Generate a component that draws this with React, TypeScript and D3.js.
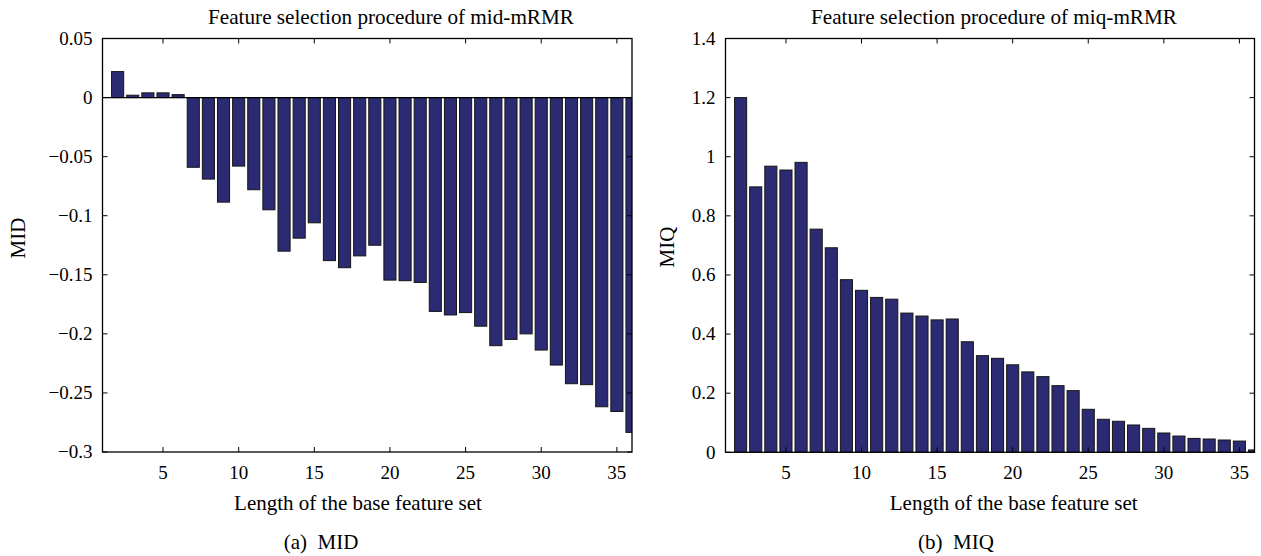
import React from "react";
import * as d3 from "d3";

const featureLengths: number[] = d3.range(2, 37);

const midValues: number[] = [
  0.022, 0.002, 0.004, 0.004, 0.0025, -0.059, -0.069, -0.0885, -0.058, -0.078,
  -0.095, -0.13, -0.119, -0.106, -0.138, -0.144, -0.134, -0.125, -0.1545, -0.155,
  -0.1565, -0.181, -0.184, -0.182, -0.1935, -0.21, -0.2047, -0.2, -0.2137, -0.2264,
  -0.2422, -0.243, -0.2617, -0.2657, -0.2834,
];

const miqValues: number[] = [
  1.2, 0.898, 0.968, 0.955, 0.981, 0.755, 0.692, 0.584, 0.548, 0.524,
  0.518, 0.471, 0.461, 0.448, 0.451, 0.374, 0.327, 0.318, 0.296, 0.272,
  0.256, 0.2255, 0.2086, 0.1455, 0.1117, 0.105, 0.0924, 0.081, 0.0653, 0.055,
  0.047, 0.045, 0.0416, 0.038, 0.008,
];

const xTicks: number[] = [5, 10, 15, 20, 25, 30, 35];
const midYTicks: number[] = [0.05, 0, -0.05, -0.1, -0.15, -0.2, -0.25, -0.3];
const miqYTicks: number[] = [1.4, 1.2, 1, 0.8, 0.6, 0.4, 0.2, 0];

const FONT = "'Liberation Serif', 'Times New Roman', serif";
const BAR_FILL = "#2b2b73";

const fmt = (v: number) => {
  const s = String(Math.abs(v));
  return v < 0 ? "\u2212" + s : s;
};

type PanelProps = {
  id: string;
  left: number;
  right: number;
  top: number;
  bottom: number;
  yDomain: [number, number];
  yTicks: number[];
  values: number[];
  title: string;
  titleX: number;
  yLabel: string;
  yLabelX: number;
  yLabelY: number;
  xLabelX: number;
  caption: string;
  captionX: number;
  drawBaseline: boolean;
};

function Panel(p: PanelProps) {
  const x = d3.scaleLinear().domain([1, 36]).range([p.left, p.right]);
  const y = d3.scaleLinear().domain(p.yDomain).range([p.bottom, p.top]);
  const bw = x(1.8) - x(1);
  const tl = 5;
  return (
    <g>
      <defs>
        <clipPath id={p.id}>
          <rect x={p.left} y={p.top} width={p.right - p.left} height={p.bottom - p.top} />
        </clipPath>
      </defs>
      <g clipPath={`url(#${p.id})`}>
        {p.values.map((v, i) => {
          const cx = x(featureLengths[i]);
          const y0 = y(0);
          const y1 = y(v);
          return (
            <rect
              key={i}
              x={cx - bw / 2}
              y={Math.min(y0, y1)}
              width={bw}
              height={Math.abs(y1 - y0)}
              fill={BAR_FILL}
              stroke="#151515"
              strokeWidth={1}
            />
          );
        })}
        {p.drawBaseline && (
          <line x1={p.left} x2={p.right} y1={y(0)} y2={y(0)} stroke="#000" strokeWidth={1.2} />
        )}
      </g>
      <rect
        x={p.left}
        y={p.top}
        width={p.right - p.left}
        height={p.bottom - p.top}
        fill="none"
        stroke="#000"
        strokeWidth={1.3}
      />
      {xTicks.map((t) => (
        <g key={"x" + t}>
          <line x1={x(t)} x2={x(t)} y1={p.bottom} y2={p.bottom - tl} stroke="#000" />
          <line x1={x(t)} x2={x(t)} y1={p.top} y2={p.top + tl} stroke="#000" />
          <text x={x(t)} y={p.bottom + 27} textAnchor="middle" fontSize={19} fontFamily={FONT}>
            {t}
          </text>
        </g>
      ))}
      {p.yTicks.map((t) => (
        <g key={"y" + t}>
          <line x1={p.left} x2={p.left + tl} y1={y(t)} y2={y(t)} stroke="#000" />
          <line x1={p.right} x2={p.right - tl} y1={y(t)} y2={y(t)} stroke="#000" />
          <text
            x={p.left - 10}
            y={y(t)}
            dy="0.33em"
            textAnchor="end"
            fontSize={19}
            fontFamily={FONT}
          >
            {fmt(t)}
          </text>
        </g>
      ))}
      <text x={p.titleX} y={24} textAnchor="middle" fontSize={21.2} fontFamily={FONT}>
        {p.title}
      </text>
      <text x={p.xLabelX} y={510} textAnchor="middle" fontSize={21} fontFamily={FONT}>
        Length of the base feature set
      </text>
      <text
        transform={`translate(${p.yLabelX},${p.yLabelY}) rotate(-90)`}
        textAnchor="middle"
        fontSize={21}
        fontFamily={FONT}
      >
        {p.yLabel}
      </text>
      <text x={p.captionX} y={549} textAnchor="middle" fontSize={21} fontFamily={FONT} style={{ whiteSpace: "pre" }}>
        {p.caption}
      </text>
    </g>
  );
}

export default function App() {
  return (
    <div style={{ position: "absolute", left: 0, top: 0 }}>
      <svg width={1261} height={556} style={{ display: "block", background: "#fff" }}>
        <Panel
          id="clipA"
          left={102.5}
          right={632}
          top={38.5}
          bottom={452}
          yDomain={[-0.3, 0.05]}
          yTicks={midYTicks}
          values={midValues}
          title="Feature selection procedure of mid-mRMR"
          titleX={391}
          yLabel="MID"
          yLabelX={25}
          yLabelY={238}
          xLabelX={358}
          caption="(a)  MID"
          captionX={321}
          drawBaseline={true}
        />
        <Panel
          id="clipB"
          left={725.5}
          right={1254.5}
          top={38.5}
          bottom={452.3}
          yDomain={[0, 1.4]}
          yTicks={miqYTicks}
          values={miqValues}
          title="Feature selection procedure of miq-mRMR"
          titleX={994}
          yLabel="MIQ"
          yLabelX={674}
          yLabelY={247}
          xLabelX={1013.7}
          caption="(b)  MIQ"
          captionX={956}
          drawBaseline={false}
        />
      </svg>
    </div>
  );
}
